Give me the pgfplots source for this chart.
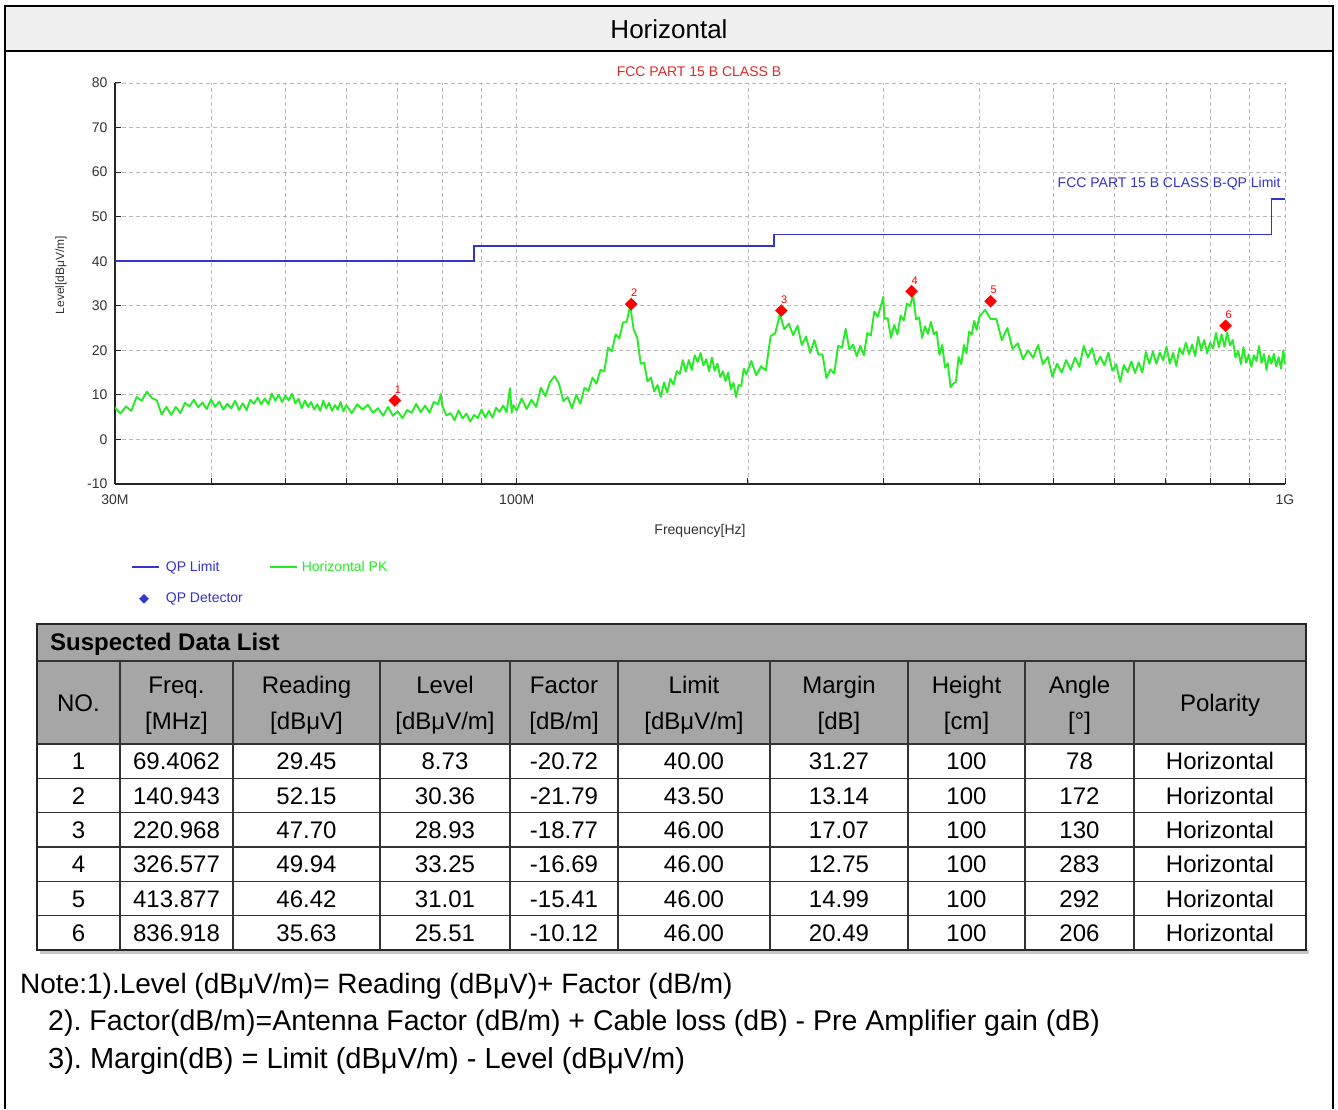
\documentclass[border=0pt]{standalone}
\usepackage{pgfplots}
\pgfplotsset{compat=1.18}
\usepackage{fontspec}
\setmainfont{Liberation Sans}
\definecolor{qpblue}{RGB}{51,51,210}
\definecolor{pkgreen}{RGB}{40,235,40}
\definecolor{tblgray}{RGB}{166,166,166}
\definecolor{hdrgray}{RGB}{240,240,240}
\definecolor{gridgray}{RGB}{185,185,185}
\definecolor{fccred}{RGB}{225,40,40}
\newcommand{\fs}[1]{\fontsize{#1}{#1}\selectfont}
\frenchspacing
\pgfplotsset{
  mylineleg/.style={legend image code/.code={\draw[##1] (0pt,0pt) -- (27pt,0pt);}},
  mydiamleg/.style={legend image code/.code={\draw[##1] plot coordinates {(12pt,0pt)};}}
}
\tikzset{tc/.style={anchor=base, font=\fs{24}, inner sep=0pt}}
\newcommand{\drow}[9]{%
  \node[tc] at (78.5,\rowY) {#1};
  \node[tc] at (176.5,\rowY) {#2};
  \node[tc] at (306.5,\rowY) {#3};
  \node[tc] at (445,\rowY) {#4};
  \node[tc] at (564,\rowY) {#5};
  \node[tc] at (694,\rowY) {#6};
  \node[tc] at (839,\rowY) {#7};
  \node[tc] at (966.5,\rowY) {#8};
  \node[tc] at (1079.5,\rowY) {#9};
  \node[tc] at (1220,\rowY) {Horizontal};}
\begin{document}
\begin{tikzpicture}[x=1pt,y=1pt]
\fill[white] (0,0) rectangle (1338,1109);
% header band
\fill[hdrgray] (5,1058) rectangle (1333,1103);
\draw[line width=1.5pt] (5,0) -- (5,1103) -- (1333,1103) -- (1333,0);
\draw[line width=1.5pt] (5,1058) -- (1333,1058);
\node[font=\fs{26}] at (669,1080) {Horizontal};

\begin{axis}[
  at={(115pt,625pt)}, anchor=south west,
  width=1170pt, height=401pt, scale only axis,
  xmode=log, xmin=30, xmax=1000, ymin=-10, ymax=80,
  xtick={30,100,1000}, xticklabels={30M,100M,1G},
  minor xtick={40,50,60,70,80,90,200,300,400,500,600,700,800,900},
  ytick={-10,0,10,20,30,40,50,60,70,80},
  grid=both,
  major grid style={gridgray, dash pattern=on 4pt off 3pt, line width=0.8pt},
  minor grid style={gridgray, dash pattern=on 4pt off 3pt, line width=0.8pt},
  axis x line=bottom, axis y line=left,
  axis line style={-, line width=1.8pt, black!85},
  tick style={black!85, line width=1pt},
  major tick length=6pt, minor tick length=6pt,
  tick align=inside,
  ticklabel style={font=\fs{14}, text=black!80},
  xticklabel style={yshift=-7pt},
  yticklabel style={xshift=-4pt},
  /pgf/number format/assume math mode=true,
  legend columns=2, legend cell align=left,
  legend style={at={(0.011,-0.183)}, anchor=north west, draw=none, fill=none,
    font=\fs{14}, row sep=16pt,
    /tikz/every even column/.append style={column sep=24pt}},
]
\addplot[qpblue, line width=1.8pt, mylineleg] coordinates {(30,40) (88,40) (88,43.5) (216,43.5) (216,46) (960,46) (960,54) (1000,54)};
\addlegendentry{\hspace{4pt}\textcolor{qpblue}{QP Limit}}
\addplot[pkgreen, line width=1.9pt, line join=round, mylineleg] coordinates {
(30,7.1)(30.5,5.8)(31,7.4)(31.5,6.4)(32,9.5)(32.5,8.7)(33,10.7)(33.5,9.3)(34,8.8)(34.5,5.6)(35,7.3)(35.5,5.5)(36,7.3)(36.5,5.9)(37,8.2)(37.5,7.4)(38,8.9)(38.5,7.2)(39,8.3)(39.5,6.8)(40,9.0)(40.5,7.3)(41,8.5)(41.5,6.7)(42,8.0)(42.5,7.0)(43,8.7)(43.5,6.6)(44,8.1)(44.5,6.6)(45,8.9)(45.5,8.0)(46,9.4)(46.5,7.9)(47,9.2)(47.5,7.9)(48,10.3)(48.5,8.7)(49,10.0)(49.5,8.4)(50,9.8)(50.5,8.8)(51,10.3)(51.5,8.1)(52,9.1)(52.5,7.0)(53,8.7)(53.5,7.3)(54,8.4)(54.5,6.7)(55,7.9)(55.5,6.4)(56,8.7)(56.5,7.0)(57,8.2)(57.5,6.4)(58,7.7)(58.5,6.7)(59,8.4)(59.5,6.3)(60,7.7)
(61,5.9)(62,7.9)(63,6.7)(64,7.8)(65,6.0)(66,7.0)(67,5.3)(68,7.3)(69,5.3)(70,6.3)(71,4.8)(72,6.6)(73,6.0)(74,8.0)(75,6.1)(76,7.6)(77,6.0)(78,8.4)(79,7.9)(79.7,10.2)(80,7.5)(81,5.4)(82,5.9)(83,4.3)(84,6.5)(85,4.7)(86,5.8)(87,4.0)(88,5.5)(89,4.8)(90,6.7)(91,4.9)(92,6.4)(93,4.9)(94,7.1)(95,6.2)(96,7.6)(97,6.1)(98,11.5)(98.5,6.0)(99,7.7)(100,6.5)
(101.5,9.2)(103,6.8)(104.5,8.9)(106,7.3)(107.5,11.6)(109,9.7)(110.5,12.9)(112,14.2)(113.5,12.5)(115,8.6)(116.5,9.5)(118,7.0)(119.5,10.0)(121,8.0)(122.5,11.6)(124,10.9)(125.5,13.9)(127,12.5)(128.5,15.6)(130,15.3)(131.5,20.6)(133,19.8)(134.5,23.6)(136,22.7)(137.5,26.3)(139,26.3)(140.5,30.0)(142,24.6)(143.5,22.8)(145,17.0)(146.5,17.2)(148,13.0)(149.5,13.9)(151,10.8)(152.5,12.2)(154,9.5)(155.5,12.8)(157,10.5)(158.5,13.6)(160,12.3)(161.5,15.3)(163,14.7)(164.5,17.8)(166,15.2)(167.5,17.8)(169,15.6)(170.5,18.9)(172,17.4)(173.5,19.4)(175,16.6)(176.5,18.0)(178,15.3)(179.5,18.4)(181,15.4)(182.5,17.0)(184,14.0)(185.5,15.3)(187,13.1)(188.5,15.0)(190,11.2)(191.5,12.7)(193,9.5)(194.5,12.2)(196,12.0)(197.5,15.9)(199,14.6)
(202,17.6)(205,14.4)(208,16.4)(211,15.5)(214,23.2)(217,23.8)(220,28.1)(223,24.7)(226,26.0)(229,23.4)(232,25.5)(235,21.2)(238,23.1)(241,19.4)(244,22.3)(247,19.0)(250,19.1)(253,13.8)(256,15.7)(259,14.8)(262,21.0)(265,20.6)(268,24.8)(271,20.2)(274,21.3)(277,18.7)(280,21.0)(283,18.9)(286,23.9)(289,23.3)(292,28.7)(295,27.5)(298,30.1)(300,32.0)(301,27.1)(304,27.2)(307,22.8)(310,25.7)(313,23.6)(316,27.8)(319,26.7)(322,30.5)(325,29.9)(328,32.5)(331,26.9)(334,27.4)(337,22.8)(340,25.4)(343,23.7)(346,26.4)(349,23.6)(352,24.2)(355,19.0)(358,21.2)(361,16.1)(364,17.1)(367,11.7)(370,12.5)(373,12.9)(376,18.5)(379,16.9)(382,21.2)(385,19.3)(388,24.2)(391,23.5)(394,26.6)(397,24.6)(400,27.5)
(407,29.1)(414,27.0)(421,27.0)(428,22.3)(435,25.0)(442,20.3)(449,21.6)(456,18.0)(463,20.0)(470,18.3)(477,21.2)(484,16.9)(491,18.5)(498,14.1)(505,17.0)(512,15.0)(519,17.8)(526,15.6)(533,18.4)(540,16.3)(547,21.0)(554,18.4)(561,20.5)(568,16.8)(575,18.6)(582,16.6)(589,19.5)(596,15.4)(603,16.9)(610,12.9)(617,16.7)(624,15.1)(631,17.5)(638,14.9)(645,17.3)(652,15.0)(659,19.6)(666,17.0)(673,19.7)(680,17.0)(687,19.5)(694,17.8)(701,20.8)(708,17.0)(715,19.4)(722,16.5)(729,20.5)(736,19.1)(743,21.7)(750,19.1)(757,21.3)(764,18.7)(771,23.0)(778,20.0)(785,22.3)(792,19.3)(799,21.7)(806,20.4)(813,23.9)(820,20.7)(827,23.6)(834,20.8)(841,24.0)(848,21.1)(855,22.3)(862,18.4)(869,19.9)(876,16.9)(883,20.7)(890,17.2)(897,19.1)(904,16.3)(911,18.9)(918,17.6)(925,21.0)(932,17.2)(939,19.2)(946,15.6)(953,18.8)(960,17.0)(967,19.2)(974,16.4)(981,18.5)(988,15.9)(995,20.0)(1000,16.9)
};
\addlegendentry{\hspace{2pt}\textcolor{pkgreen}{Horizontal PK}}
\addlegendimage{only marks, mark=square*, mark options={rotate=45}, qpblue, mark size=3.2pt, mydiamleg}
\addlegendentry{\hspace{4pt}\textcolor{qpblue}{QP Detector}}
\addplot[only marks, mark=square*, mark size=4.2pt, red, mark options={rotate=45, fill=red, draw=red},
  point meta=explicit symbolic, nodes near coords,
  nodes near coords style={font=\fs{11}, text=red, anchor=south, inner sep=0pt, yshift=7pt, xshift=3pt},
  forget plot] coordinates {
(69.4062,8.73)[1] (140.943,30.36)[2] (220.968,28.93)[3] (326.577,33.25)[4] (413.877,31.01)[5] (836.918,25.51)[6]};
\end{axis}

\node[font=\fs{14}, text=fccred] at (699,1037) {FCC PART 15 B CLASS B};
\node[font=\fs{14}, text=qpblue, anchor=east] at (1284,925) {FCC PART 15 B CLASS B-QP Limit};
\node[font=\fs{12}, rotate=90, text=black!80] at (61,834) {Level[dBμV/m]};
\node[font=\fs{14}, text=black!80] at (700,578) {Frequency[Hz]};

% table
\fill[gray!45] (40,155) rectangle (1309,159);
\fill[tblgray] (37,365) rectangle (1306,485);
\draw[line width=1.2pt, black!80] (37,448) -- (1306,448);
\foreach \yy in {365,330.7,296.3,262,227.7,193.3} {\draw[line width=1.2pt, black!80] (37,\yy) -- (1306,\yy);}
\foreach \xx in {120,233,380,510,618,770,908,1025,1134} {\draw[line width=1.2pt, black!80] (\xx,159) -- (\xx,448);}
\draw[line width=1.6pt, black!85] (37,159) rectangle (1306,485);
\node[anchor=base west, font=\bfseries\fs{24}, inner sep=0pt] at (50,458.4) {Suspected Data List};
\node[tc] at (78.5,397.4) {NO.};
\node[tc] at (1220,397.4) {Polarity};
\foreach \xc/\ta/\tb in {176.5/Freq./{[MHz]}, 306.5/Reading/{[dBμV]}, 445/Level/{[dBμV/m]}, 564/Factor/{[dB/m]}, 694/Limit/{[dBμV/m]}, 839/Margin/{[dB]}, 966.5/Height/{[cm]}, 1079.5/Angle/{[°]}} {
  \node[tc] at (\xc,415.4) {\ta};
  \node[tc] at (\xc,379.4) {\tb};
}
\def\rowY{339.3}\drow{1}{69.4062}{29.45}{8.73}{-20.72}{40.00}{31.27}{100}{78}
\def\rowY{304.9}\drow{2}{140.943}{52.15}{30.36}{-21.79}{43.50}{13.14}{100}{172}
\def\rowY{270.6}\drow{3}{220.968}{47.70}{28.93}{-18.77}{46.00}{17.07}{100}{130}
\def\rowY{236.2}\drow{4}{326.577}{49.94}{33.25}{-16.69}{46.00}{12.75}{100}{283}
\def\rowY{201.9}\drow{5}{413.877}{46.42}{31.01}{-15.41}{46.00}{14.99}{100}{292}
\def\rowY{167.6}\drow{6}{836.918}{35.63}{25.51}{-10.12}{46.00}{20.49}{100}{206}

% notes
\node[anchor=base west, font=\fs{28}, inner sep=0pt] at (20,115.3) {Note:1).Level (dBμV/m)= Reading (dBμV)+ Factor (dB/m)};
\node[anchor=base west, font=\fs{28.5}, inner sep=0pt] at (48,78.3) {2). Factor(dB/m)=Antenna Factor (dB/m) + Cable loss (dB) - Pre Amplifier gain (dB)};
\node[anchor=base west, font=\fs{29}, inner sep=0pt] at (48,40.3) {3). Margin(dB) = Limit (dBμV/m) - Level (dBμV/m)};
\end{tikzpicture}
\end{document}
